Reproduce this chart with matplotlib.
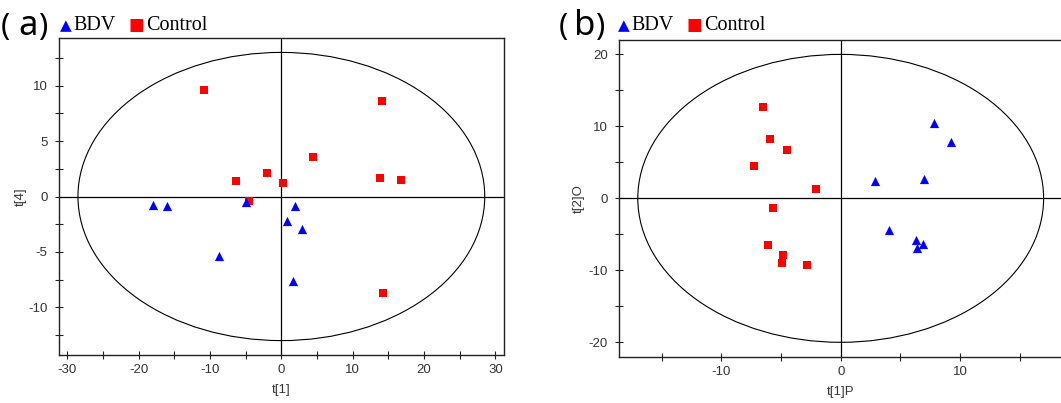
import matplotlib
matplotlib.use("Agg")
import matplotlib.pyplot as plt
from matplotlib.patches import Ellipse
from matplotlib.ticker import MultipleLocator

plt.rcParams.update({
    "font.family": "Liberation Sans",
    "axes.linewidth": 1.0,
    "axes.edgecolor": "#222222",
    "axes.unicode_minus": False,
})

# panel (a): t[1] vs t[4]
a_bdv_x = [-18.0, -16.0, -5.0, 1.9, 0.8, 2.9, -8.8, 1.6]
a_bdv_y = [-0.8, -0.9, -0.5, -0.9, -2.25, -2.9, -5.4, -7.65]
a_ctl_x = [-10.8, 14.05, 4.5, -2.05, -6.4, 0.3, 13.8, 16.75, 14.3, -4.5]
a_ctl_y = [9.6, 8.65, 3.6, 2.15, 1.4, 1.25, 1.7, 1.5, -8.7, -0.4]

# panel (b): t[1]P vs t[2]O
b_bdv_x = [7.85, 9.25, 2.85, 6.95, 4.05, 6.35, 6.9, 6.4]
b_bdv_y = [10.4, 7.8, 2.45, 2.7, -4.45, -5.8, -6.35, -6.85]
b_ctl_x = [-6.5, -5.9, -4.5, -7.3, -2.1, -5.65, -6.1, -4.85, -4.95, -2.85]
b_ctl_y = [12.65, 8.25, 6.7, 4.55, 1.3, -1.35, -6.5, -7.85, -9.0, -9.25]

W, H = 1061, 403
fig = plt.figure(figsize=(W / 100, H / 100), dpi=100)


def px(x0, y0, x1, y1):
    return [x0 / W, 1 - y1 / H, (x1 - x0) / W, (y1 - y0) / H]


def score_plot(ax, bx, by, cx, cy, rx, ry, xlim, ylim, xmaj, xmin, ymaj, ymin, xlab, ylab, ypad):
    ax.set_xlim(*xlim)
    ax.set_ylim(*ylim)
    ax.add_patch(Ellipse((0, 0), 2 * rx, 2 * ry, fill=False, ec="black", lw=0.8))
    ax.axhline(0, color="black", lw=0.9)
    ax.axvline(0, color="black", lw=0.9)
    ax.scatter(cx, cy, marker="s", s=34, color="#ff0000", lw=0, zorder=3)
    ax.scatter(bx, by, marker="^", s=44, color="#0000ff", lw=0, zorder=4)
    ax.xaxis.set_major_locator(MultipleLocator(xmaj))
    ax.xaxis.set_minor_locator(MultipleLocator(xmin))
    ax.yaxis.set_major_locator(MultipleLocator(ymaj))
    ax.yaxis.set_minor_locator(MultipleLocator(ymin))
    ax.tick_params(which="both", direction="inout", length=6, width=0.8,
                   labelsize=9.5, labelcolor="#333333", color="#222222")
    ax.tick_params(axis="y", pad=5)
    ax.set_xlabel(xlab, fontsize=9.5, color="#333333", labelpad=6)
    ax.set_ylabel(ylab, fontsize=9.5, color="#333333", labelpad=ypad)


ax1 = fig.add_axes(px(58.7, 38, 504, 355))
score_plot(ax1, a_bdv_x, a_bdv_y, a_ctl_x, a_ctl_y, 28.5, 13.0,
           (-31.2, 31.2), (-14.3, 14.3), 10, 5, 5, 2.5, "t[1]", "t[4]", 1.0)

ax2 = fig.add_axes(px(618.7, 40, 1062.7, 356.7))
score_plot(ax2, b_bdv_x, b_bdv_y, b_ctl_x, b_ctl_y, 17.0, 20.0,
           (-18.6, 18.6), (-22, 22), 10, 5, 10, 5, "t[1]P", "t[2]O", 2.5)


def put(x, y, s, **kw):
    fig.text(x / W, 1 - y / H, s, va="baseline", **kw)


def header(xs, letter, leg):
    # panel tag drawn glyph by glyph to keep its wide spacing
    put(xs[0], 35, "(", fontsize=22, family="Noto Sans")
    put(xs[1], 35, letter, fontsize=25, family="Noto Sans")
    put(xs[2], 35, ")", fontsize=22, family="Noto Sans")
    put(leg, 30, "▲", fontsize=11, color="#0000ff", family="DejaVu Sans")
    put(leg + 13, 30, "BDV", fontsize=14.5, family="Liberation Serif")
    put(leg + 69, 30, "■", fontsize=12, color="#ff0000", family="DejaVu Sans")
    put(leg + 86, 30, "Control", fontsize=14.5, family="Liberation Serif")


header([1, 18, 38], "a", 60)
header([559, 574, 595], "b", 618)

fig.savefig("out.png", dpi=100)
